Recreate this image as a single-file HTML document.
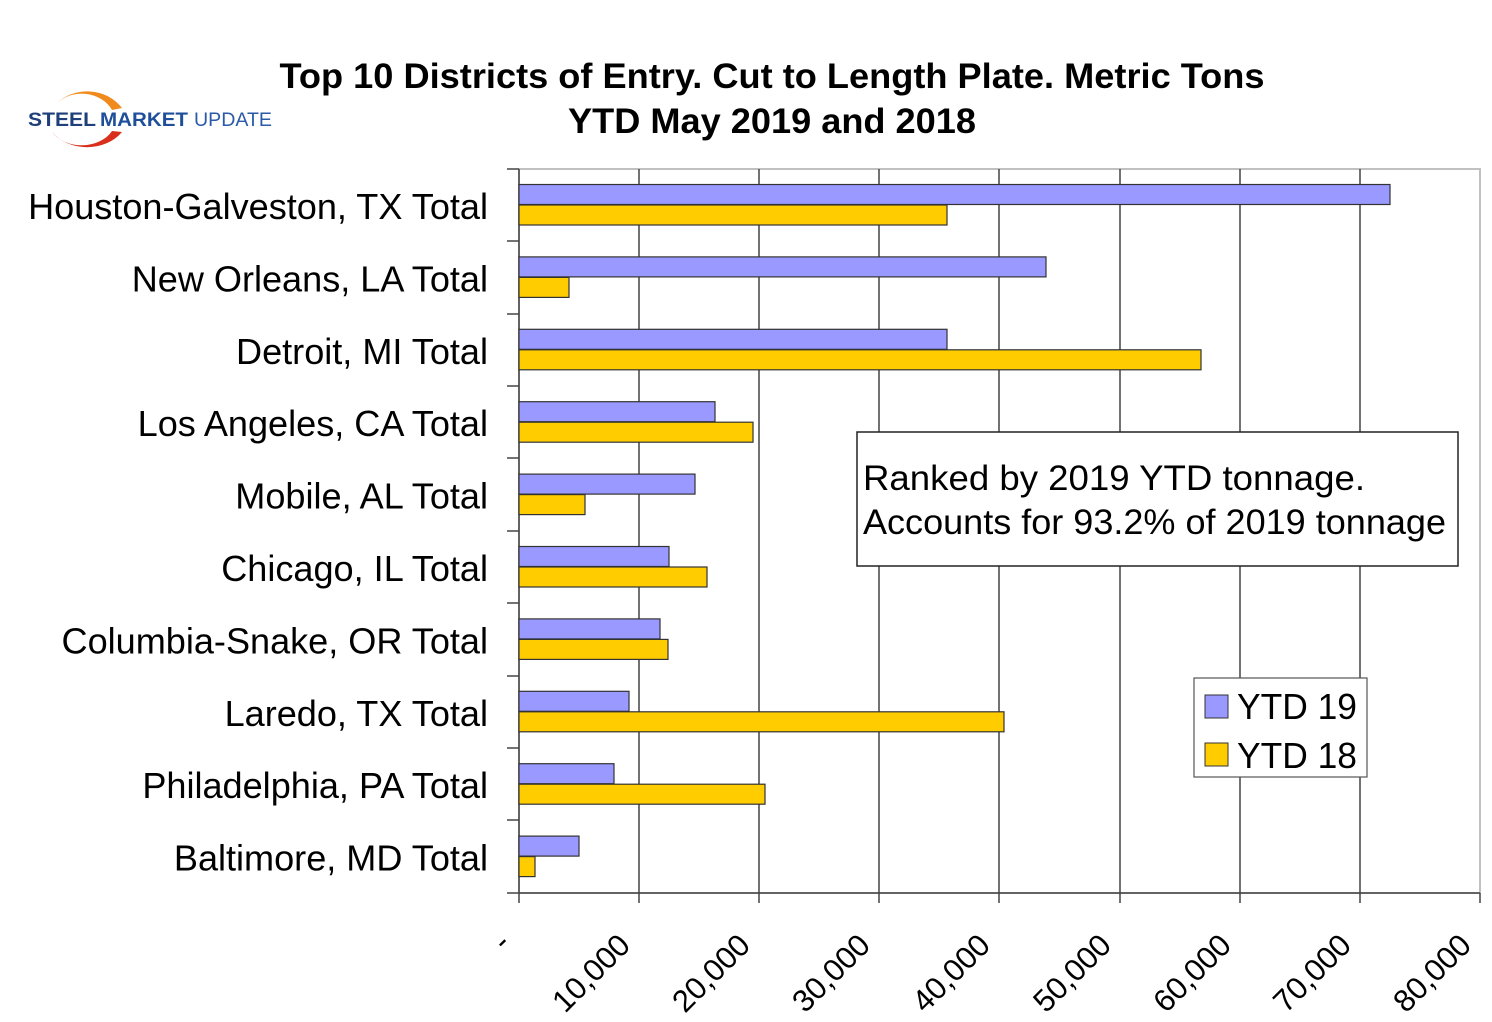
<!DOCTYPE html>
<html><head><meta charset="utf-8"><style>
html,body{margin:0;padding:0;background:#fff;}
svg{display:block;font-family:"Liberation Sans",sans-serif;}
</style></head><body>
<svg width="1492" height="1022" viewBox="0 0 1492 1022" xmlns="http://www.w3.org/2000/svg">
<!-- logo -->
<path d="M56 104 A42 38 0 0 1 122 108 L112 110 A34 30 0 0 0 56 104 Z" fill="#f08a1c"/>
<path d="M52 132 A42 34 0 0 0 122 132 L112 131 A34 26 0 0 1 52 132 Z" fill="#d8301c"/>
<text x="28" y="126" font-size="19" font-weight="bold" fill="#1f3f7a" textLength="68" lengthAdjust="spacingAndGlyphs">STEEL</text>
<text x="100" y="126" font-size="19" font-weight="bold" fill="#1f4f9a" textLength="88" lengthAdjust="spacingAndGlyphs">MARKET</text>
<text x="194" y="126" font-size="19" fill="#2a5aa8" textLength="78" lengthAdjust="spacingAndGlyphs">UPDATE</text>
<!-- title -->
<text x="772" y="88" font-size="35" font-weight="bold" text-anchor="middle" textLength="985" lengthAdjust="spacingAndGlyphs">Top 10 Districts of Entry. Cut to Length Plate. Metric Tons</text>
<text x="772" y="133" font-size="35" font-weight="bold" text-anchor="middle" textLength="408" lengthAdjust="spacingAndGlyphs">YTD May 2019 and 2018</text>
<!-- plot frame -->
<rect x="519" y="169" width="961" height="724" fill="none" stroke="#c0c0c0" stroke-width="2"/>
<g stroke="#444" stroke-width="1.5">
<line x1="639" y1="169" x2="639" y2="903"/><line x1="759" y1="169" x2="759" y2="903"/>
<line x1="879" y1="169" x2="879" y2="903"/><line x1="999" y1="169" x2="999" y2="903"/>
<line x1="1120" y1="169" x2="1120" y2="903"/><line x1="1240" y1="169" x2="1240" y2="903"/>
<line x1="1360" y1="169" x2="1360" y2="903"/><line x1="1480" y1="893" x2="1480" y2="903"/>
<line x1="519" y1="169" x2="519" y2="903"/>
<line x1="507" y1="893" x2="1480" y2="893"/>
<line x1="507" y1="169" x2="519" y2="169"/><line x1="507" y1="241" x2="519" y2="241"/>
<line x1="507" y1="314" x2="519" y2="314"/><line x1="507" y1="386" x2="519" y2="386"/>
<line x1="507" y1="458" x2="519" y2="458"/><line x1="507" y1="531" x2="519" y2="531"/>
<line x1="507" y1="603" x2="519" y2="603"/><line x1="507" y1="676" x2="519" y2="676"/>
<line x1="507" y1="748" x2="519" y2="748"/><line x1="507" y1="820" x2="519" y2="820"/>
</g>
<!-- bars -->
<g stroke="#333" stroke-width="1.2">
<rect x="519" y="184.5" width="871" height="20" fill="#9999ff"/><rect x="519" y="205" width="428" height="20" fill="#ffcc00"/>
<rect x="519" y="256.9" width="527" height="20" fill="#9999ff"/><rect x="519" y="277.4" width="50" height="20" fill="#ffcc00"/>
<rect x="519" y="329.3" width="428" height="20" fill="#9999ff"/><rect x="519" y="349.8" width="682" height="20" fill="#ffcc00"/>
<rect x="519" y="401.7" width="196" height="20" fill="#9999ff"/><rect x="519" y="422.2" width="234" height="20" fill="#ffcc00"/>
<rect x="519" y="474.1" width="176" height="20" fill="#9999ff"/><rect x="519" y="494.6" width="66" height="20" fill="#ffcc00"/>
<rect x="519" y="546.5" width="150" height="20" fill="#9999ff"/><rect x="519" y="567" width="188" height="20" fill="#ffcc00"/>
<rect x="519" y="618.9" width="141" height="20" fill="#9999ff"/><rect x="519" y="639.4" width="149" height="20" fill="#ffcc00"/>
<rect x="519" y="691.3" width="110" height="20" fill="#9999ff"/><rect x="519" y="711.8" width="485" height="20" fill="#ffcc00"/>
<rect x="519" y="763.7" width="95" height="20" fill="#9999ff"/><rect x="519" y="784.2" width="246" height="20" fill="#ffcc00"/>
<rect x="519" y="836.1" width="60" height="20" fill="#9999ff"/><rect x="519" y="856.6" width="16" height="20" fill="#ffcc00"/>
</g>
<!-- category labels -->
<g font-size="36.1" text-anchor="end">
<text x="488" y="219">Houston-Galveston, TX Total</text>
<text x="488" y="291.4">New Orleans, LA Total</text>
<text x="488" y="363.8">Detroit, MI Total</text>
<text x="488" y="436.2">Los Angeles, CA Total</text>
<text x="488" y="508.6">Mobile, AL Total</text>
<text x="488" y="581">Chicago, IL Total</text>
<text x="488" y="653.4">Columbia-Snake, OR Total</text>
<text x="488" y="725.8">Laredo, TX Total</text>
<text x="488" y="798.2">Philadelphia, PA Total</text>
<text x="488" y="870.6">Baltimore, MD Total</text>
</g>
<!-- x labels -->
<g font-size="31" text-anchor="end">
<text transform="translate(512,945) rotate(-45)">-</text>
<text transform="translate(632,947) rotate(-45)">10,000</text>
<text transform="translate(752,947) rotate(-45)">20,000</text>
<text transform="translate(872,947) rotate(-45)">30,000</text>
<text transform="translate(992,947) rotate(-45)">40,000</text>
<text transform="translate(1113,947) rotate(-45)">50,000</text>
<text transform="translate(1233,947) rotate(-45)">60,000</text>
<text transform="translate(1353,947) rotate(-45)">70,000</text>
<text transform="translate(1473,947) rotate(-45)">80,000</text>
</g>
<!-- annotation -->
<rect x="857" y="432" width="601" height="134" fill="#fff" stroke="#222" stroke-width="1.5"/>
<text x="863" y="490" font-size="35" textLength="502" lengthAdjust="spacingAndGlyphs">Ranked by 2019  YTD tonnage.</text>
<text x="863" y="534" font-size="35" textLength="583" lengthAdjust="spacingAndGlyphs">Accounts for 93.2% of 2019 tonnage</text>
<!-- legend -->
<rect x="1194" y="678" width="173" height="99" fill="#fff" stroke="#555" stroke-width="1.2"/>
<rect x="1205" y="695" width="23" height="23" fill="#9999ff" stroke="#333"/>
<rect x="1205" y="743" width="23" height="23" fill="#ffcc00" stroke="#333"/>
<text x="1237" y="719" font-size="36" textLength="120" lengthAdjust="spacingAndGlyphs">YTD 19</text>
<text x="1237" y="768" font-size="36" textLength="120" lengthAdjust="spacingAndGlyphs">YTD 18</text>
</svg>
</body></html>
